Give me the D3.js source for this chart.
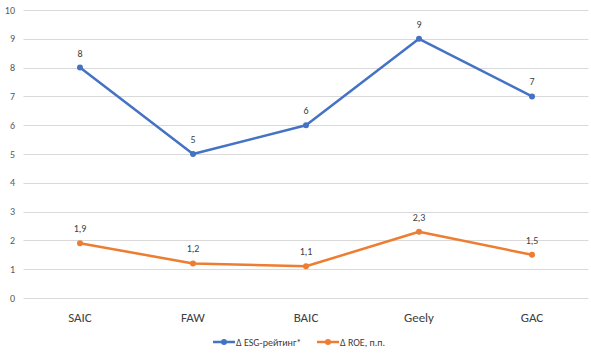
<!DOCTYPE html>
<html>
<head>
<meta charset="utf-8">
<script src="https://cdn.jsdelivr.net/npm/d3@7"></script>
<style>
body{margin:0;background:#fff;}
svg{display:block;font-family:Calibri,"Carlito","Liberation Sans","DejaVu Sans",sans-serif;}
.grid line{stroke:#d9d9d9;stroke-width:1;}
</style>
</head>
<body>
<div id="chart"></div>
<script>
var w = 591;
var h = 354;

var categories = ["SAIC", "FAW", "BAIC", "Geely", "GAC"];
var esgValues = [8, 5, 6, 9, 7];
var roeValues = [1.9, 1.2, 1.1, 2.3, 1.5];
var yTicks = [0,1,2,3,4,5,6,7,8,9,10];
var seriesNames = ["\u0394 ESG-\u0440\u0435\u0439\u0442\u0438\u043d\u0433*", "\u0394 ROE, \u043f.\u043f."];
var colors = ["#4472c4", "#ed7d31"];

var plotLeft = 23.5, plotRight = 588.5, plotTop = 10, plotBottom = 298;

var xScale = d3.scalePoint()
  .domain(categories)
  .range([plotLeft, plotRight])
  .padding(0.5);

var yScale = d3.scaleLinear()
  .domain([0, 10])
  .range([plotBottom, plotTop]);

var svg = d3.select("#chart").append("svg")
  .attr("width", w)
  .attr("height", h);

// gridlines
svg.append("g").attr("class", "grid")
  .selectAll("line").data(yTicks).enter().append("line")
  .attr("x1", plotLeft).attr("x2", plotRight)
  .attr("y1", function(d){ return Math.round(yScale(d)) + 0.5; })
  .attr("y2", function(d){ return Math.round(yScale(d)) + 0.5; });

// y labels
svg.append("g").selectAll("text").data(yTicks).enter().append("text")
  .attr("x", 15)
  .attr("y", function(d){ return yScale(d); })
  .attr("dy", "0.35em")
  .attr("text-anchor", "end")
  .attr("fill", "#595959")
  .style("font-size", "10px")
  .text(function(d){ return d; });

// x labels
svg.append("g").selectAll("text").data(categories).enter().append("text")
  .attr("x", function(d){ return xScale(d); })
  .attr("y", 322)
  .attr("text-anchor", "middle")
  .attr("fill", "#404040")
  .style("font-size", "13px")
  .text(function(d){ return d; });

var line = d3.line()
  .x(function(d, i){ return xScale(categories[i]); })
  .y(function(d){ return yScale(d); });

function fmt(v){ return String(v).replace(".", ","); }

[esgValues, roeValues].forEach(function(vals, s){
  svg.append("path")
    .datum(vals)
    .attr("fill", "none")
    .attr("stroke", colors[s])
    .attr("stroke-width", 2.5)
    .attr("stroke-linejoin", "round")
    .attr("d", line);

  svg.append("g").selectAll("circle").data(vals).enter().append("circle")
    .attr("cx", function(d, i){ return xScale(categories[i]); })
    .attr("cy", function(d){ return yScale(d); })
    .attr("r", 3)
    .attr("fill", colors[s]);

  svg.append("g").selectAll("text").data(vals).enter().append("text")
    .attr("x", function(d, i){ return xScale(categories[i]); })
    .attr("y", function(d){ return yScale(d) - 11; })
    .attr("text-anchor", "middle")
    .attr("fill", "#404040")
    .style("font-size", "10px")
    .text(function(d){ return fmt(d); });
});

// legend
var legendX = [213, 317];
seriesNames.forEach(function(name, s){
  var g = svg.append("g").attr("transform", "translate(" + legendX[s] + ",342)");
  g.append("line").attr("x1", 0).attr("x2", 22).attr("y1", 0).attr("y2", 0)
    .attr("stroke", colors[s]).attr("stroke-width", 2.5);
  g.append("circle").attr("cx", 11).attr("cy", 0).attr("r", 3).attr("fill", colors[s]);
  g.append("text").attr("x", 23).attr("y", 0).attr("dy", "0.35em")
    .attr("fill", "#404040").style("font-size", "10px").text(name);
});
</script>
</body>
</html>
